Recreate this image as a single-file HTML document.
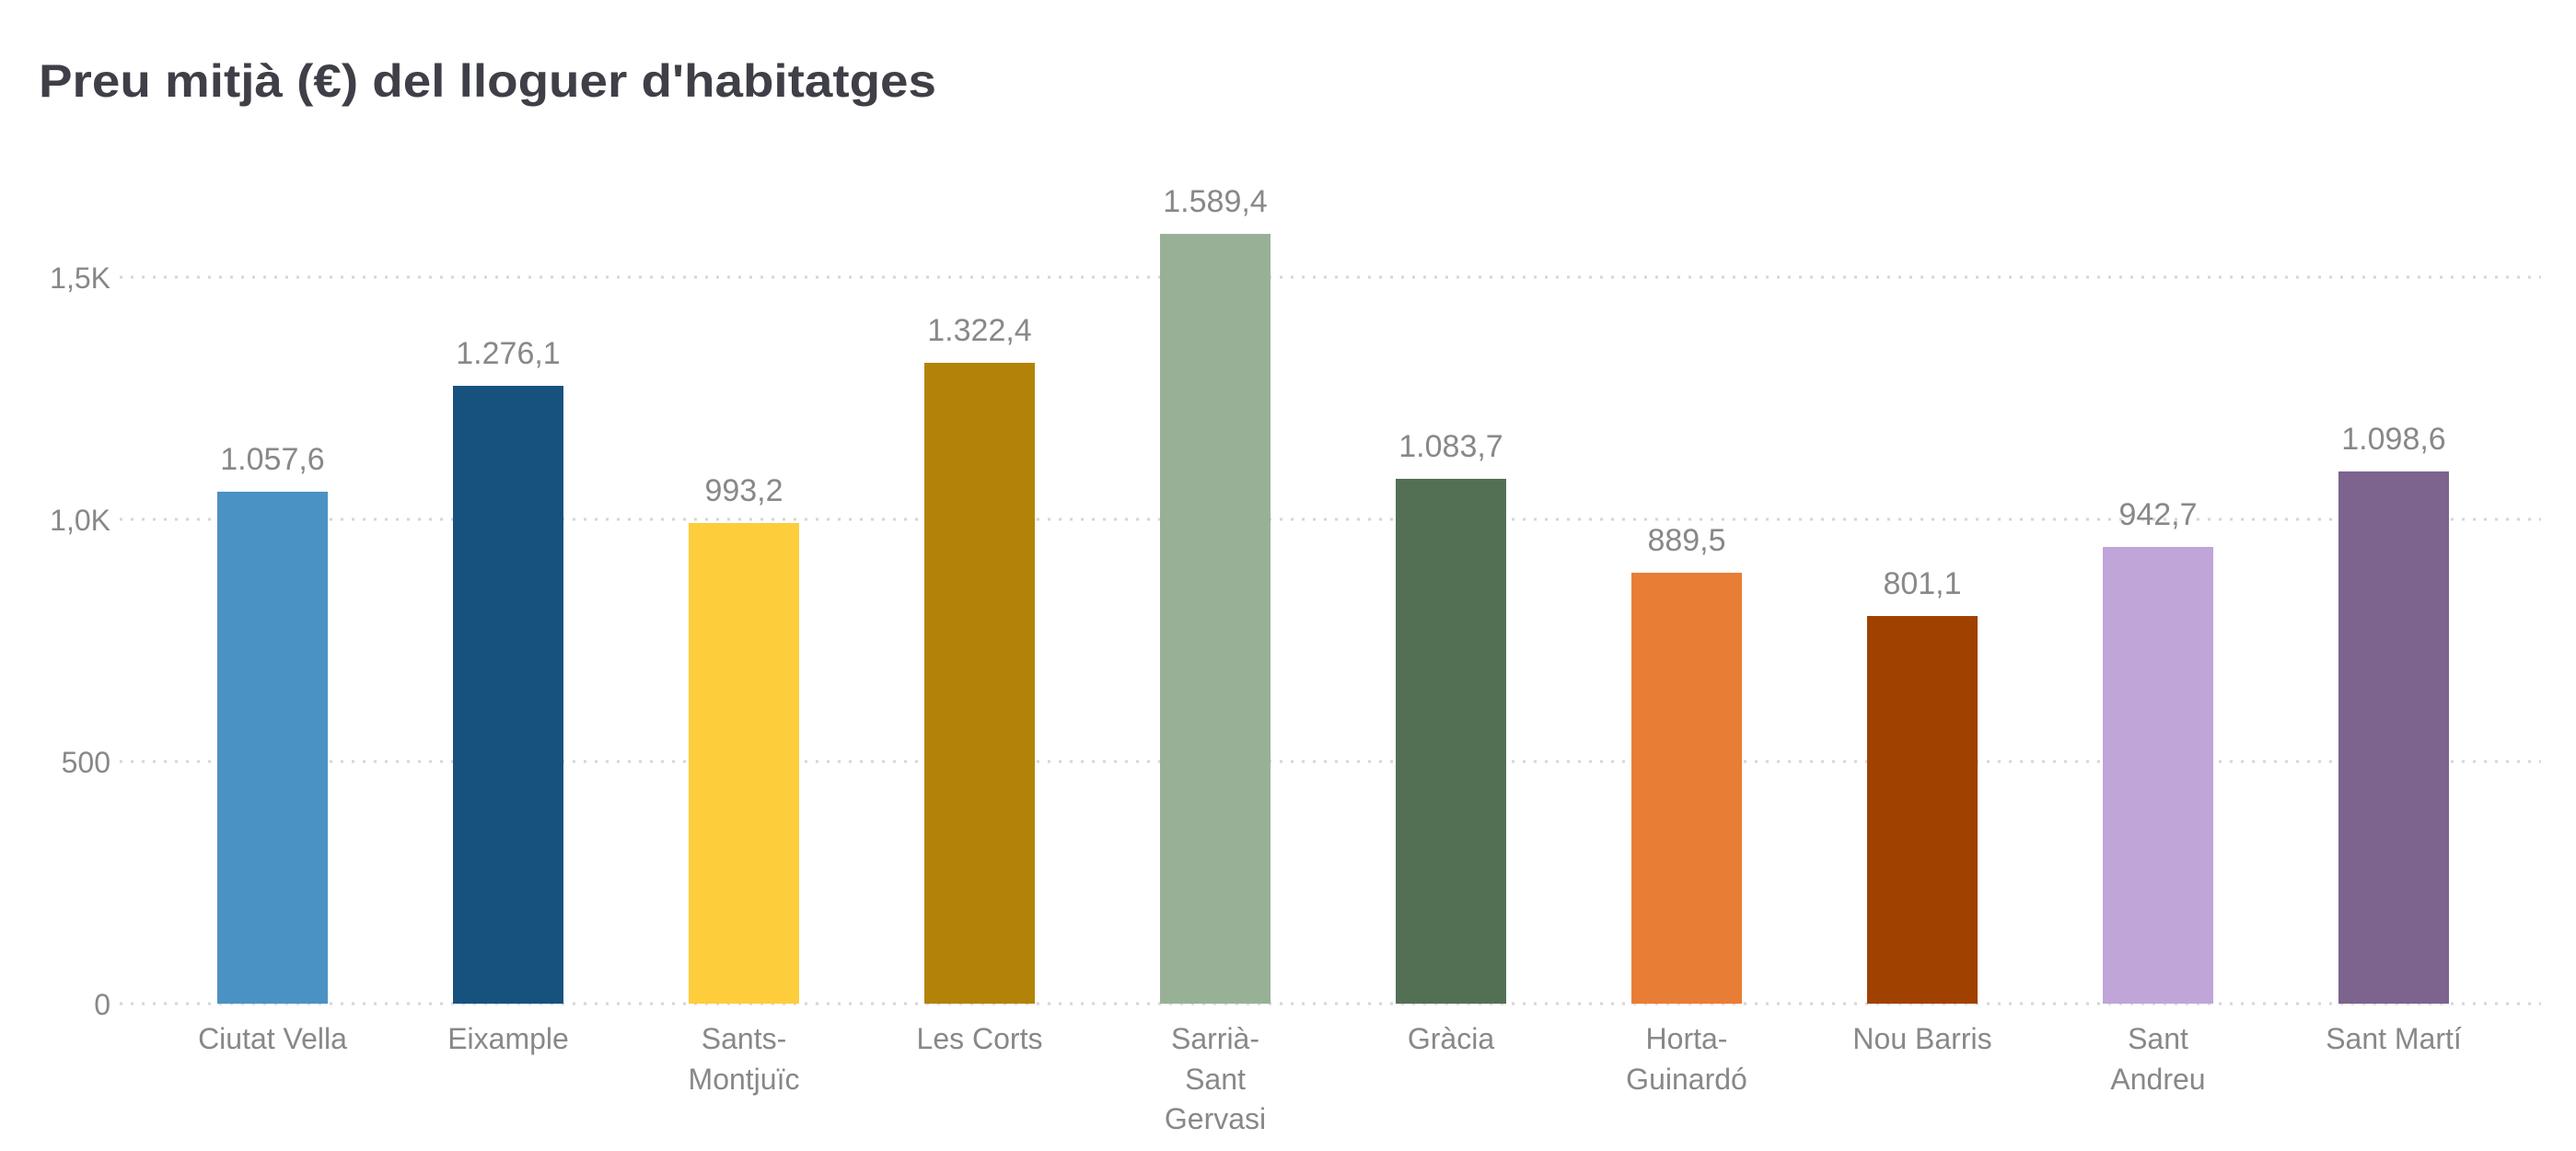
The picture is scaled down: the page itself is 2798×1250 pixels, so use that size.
<!DOCTYPE html>
<html><head><meta charset="utf-8"><style>
html,body{margin:0;padding:0;background:#fff;width:2798px;height:1250px;overflow:hidden}
svg text{font-family:"Liberation Sans",sans-serif}
</style></head><body>
<svg width="2798" height="1250" xmlns="http://www.w3.org/2000/svg">
<text x="42" y="105" font-size="50" font-weight="bold" fill="#3f3f48" textLength="975" lengthAdjust="spacingAndGlyphs">Preu mitjà (€) del lloguer d'habitatges</text>
<g stroke="#d6d6d6" stroke-width="3" stroke-dasharray="3 9">
<line x1="130" x2="2760" y1="301" y2="301"/>
<line x1="130" x2="2760" y1="564" y2="564"/>
<line x1="130" x2="2760" y1="827" y2="827"/>
<line x1="130" x2="2760" y1="1090" y2="1090"/>
</g>
<g font-size="32" fill="#888" text-anchor="end">
<text x="120" y="313">1,5K</text>
<text x="120" y="576">1,0K</text>
<text x="120" y="839">500</text>
<text x="120" y="1102">0</text>
</g>
<g font-size="34" fill="#888" text-anchor="middle">
<rect x="236" y="534" width="120" height="556" fill="#4a92c3"/><text x="296" y="510">1.057,6</text>
<rect x="492" y="419" width="120" height="671" fill="#17527f"/><text x="552" y="395">1.276,1</text>
<rect x="748" y="568" width="120" height="522" fill="#fecd3c"/><text x="808" y="544">993,2</text>
<rect x="1004" y="394" width="120" height="696" fill="#b28308"/><text x="1064" y="370">1.322,4</text>
<rect x="1260" y="254" width="120" height="836" fill="#98b196"/><text x="1320" y="230">1.589,4</text>
<rect x="1516" y="520" width="120" height="570" fill="#537055"/><text x="1576" y="496">1.083,7</text>
<rect x="1772" y="622" width="120" height="468" fill="#e87e35"/><text x="1832" y="598">889,5</text>
<rect x="2028" y="669" width="120" height="421" fill="#a04100"/><text x="2088" y="645">801,1</text>
<rect x="2284" y="594" width="120" height="496" fill="#c0a5d8"/><text x="2344" y="570">942,7</text>
<rect x="2540" y="512" width="120" height="578" fill="#7c648e"/><text x="2600" y="488">1.098,6</text>
</g>
<g font-size="32" fill="#888" text-anchor="middle">
<text x="296" y="1139">Ciutat Vella</text>
<text x="552" y="1139">Eixample</text>
<text x="808" y="1139">Sants-</text><text x="808" y="1183">Montjuïc</text>
<text x="1064" y="1139">Les Corts</text>
<text x="1320" y="1139">Sarrià-</text><text x="1320" y="1183">Sant</text><text x="1320" y="1226">Gervasi</text>
<text x="1576" y="1139">Gràcia</text>
<text x="1832" y="1139">Horta-</text><text x="1832" y="1183">Guinardó</text>
<text x="2088" y="1139">Nou Barris</text>
<text x="2344" y="1139">Sant</text><text x="2344" y="1183">Andreu</text>
<text x="2600" y="1139">Sant Martí</text>
</g>
</svg>
</body></html>
